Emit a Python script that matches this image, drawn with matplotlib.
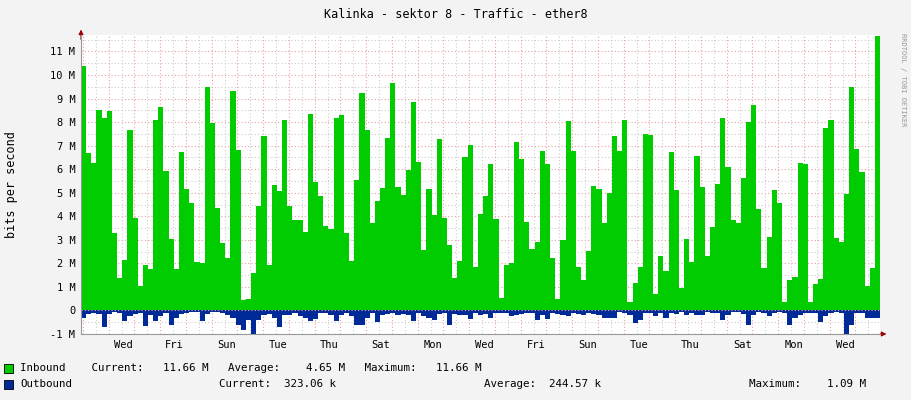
import matplotlib
matplotlib.use('Agg')
import matplotlib.pyplot as plt
import numpy as np

# inbound traffic (Mbit/s), ~4.8h steps
INBOUND = [
    10.37, 6.7, 6.28, 8.5, 8.17, 8.47, 3.28, 1.36, 2.13, 7.66, 3.91, 1.06, 1.91,
    1.76, 8.09, 8.64, 5.91, 3.02, 1.76, 6.75, 5.15, 4.55, 2.04, 2.0, 9.49, 7.96,
    4.34, 2.85, 2.21, 9.32, 6.81, 0.43, 0.47, 1.57, 4.43, 7.4, 1.91, 5.32, 5.06,
    8.09, 4.43, 3.83, 3.83, 3.32, 8.34, 5.45, 4.85, 3.57, 3.45, 8.17, 8.3, 3.28,
    2.09, 5.53, 9.23, 7.66, 3.70, 4.64, 5.19, 7.32, 9.66, 5.23, 4.89, 5.96, 8.85,
    6.30, 2.55, 5.15, 4.04, 7.28, 3.91, 2.77, 1.36, 2.09, 6.51, 7.02, 1.83, 4.09,
    4.85, 6.21, 3.87, 0.51, 1.91, 2.0, 7.15, 6.43, 3.74, 2.60, 2.89, 6.77, 6.21,
    2.21, 0.47, 2.98, 8.04, 6.77, 1.83, 1.28, 2.51, 5.28, 5.15, 3.70, 4.98, 7.40,
    6.77, 8.09, 0.38, 1.15, 1.83, 7.49, 7.45, 0.68, 2.30, 1.66, 6.72, 5.11,
    0.94, 3.02, 2.04, 6.55, 5.23, 2.30, 3.53, 5.36, 8.17, 6.09, 3.83, 3.70, 5.62,
    8.0, 8.72, 4.30, 1.79, 3.11, 5.11, 4.55, 0.34, 1.28, 1.40, 6.26, 6.21, 0.34,
    1.11, 1.32, 7.74, 8.09, 3.06, 2.89, 4.94, 9.49, 6.85, 5.87, 1.02, 1.79, 11.66,
]

# outbound traffic (Mbit/s), drawn below zero
OUTBOUND = [
    0.3, 0.15, 0.1, 0.15, 0.7, 0.15, 0.05, 0.1, 0.45, 0.25, 0.15, 0.1, 0.65,
    0.2, 0.45, 0.25, 0.1, 0.6, 0.3, 0.15, 0.1, 0.05, 0.05, 0.45, 0.15, 0.05,
    0.05, 0.1, 0.2, 0.3, 0.6, 0.85, 0.4, 1.09, 0.4, 0.2, 0.15, 0.3, 0.7,
    0.2, 0.2, 0.1, 0.25, 0.3, 0.45, 0.35, 0.1, 0.1, 0.2, 0.45, 0.2, 0.1,
    0.25, 0.62, 0.62, 0.3, 0.1, 0.5, 0.2, 0.15, 0.1, 0.2, 0.15, 0.2, 0.45,
    0.1, 0.25, 0.3, 0.4, 0.15, 0.1, 0.6, 0.15, 0.2, 0.2, 0.35, 0.1, 0.2,
    0.15, 0.3, 0.1, 0.1, 0.1, 0.25, 0.2, 0.15, 0.1, 0.1, 0.4, 0.2, 0.35,
    0.1, 0.15, 0.2, 0.25, 0.1, 0.15, 0.2, 0.1, 0.15, 0.2, 0.3, 0.3, 0.3,
    0.05, 0.1, 0.2, 0.55, 0.4, 0.1, 0.1, 0.25, 0.1, 0.3, 0.1, 0.15,
    0.05, 0.2, 0.1, 0.2, 0.2, 0.05, 0.1, 0.1, 0.4, 0.2, 0.05, 0.05, 0.15,
    0.6, 0.2, 0.05, 0.1, 0.25, 0.1, 0.05, 0.1, 0.6, 0.3, 0.2, 0.1, 0.1,
    0.1, 0.5, 0.25, 0.1, 0.05, 0.1, 1.0, 0.6, 0.1, 0.1, 0.3, 0.3, 0.323,
]

DAY_LABELS = ['Wed', 'Fri', 'Sun', 'Tue', 'Thu', 'Sat', 'Mon',
              'Wed', 'Fri', 'Sun', 'Tue', 'Thu', 'Sat', 'Mon', 'Wed']
Y_TICKS = list(range(-1, 12))

GREEN = '#00CC00'
BLUE = '#002A97'
BG = '#F3F3F3'
MONO = 'DejaVu Sans Mono'

W, H = 911, 400
L, R, B, T = 81, 880, 334, 35
n = len(INBOUND)
px_per = (R - L) / n


def px2x(px):
    return (px - L) / px_per


fig = plt.figure(figsize=(W / 100, H / 100), dpi=100, facecolor=BG)
ax = fig.add_axes([L / W, (H - B) / H, (R - L) / W, (B - T) / H])
ax.set_facecolor('white')

x = np.arange(n)
ax.bar(x, INBOUND, width=1.0, align='edge', color=GREEN, linewidth=0, zorder=2)
ax.bar(x, -np.array(OUTBOUND), width=1.0, align='edge', color=BLUE, linewidth=0, zorder=2)

ax.set_xlim(0, n)
ax.set_ylim(-1, 11.7)

# grid: red at whole M / day boundaries, grey at half M / noon
for v in np.arange(-1, 12, 0.5):
    c = '#E8A0A0' if v == int(v) else '#CCCCCC'
    ax.axhline(v, color=c, linestyle=(0, (1, 2)), linewidth=0.8, zorder=1)
day0 = 108.7
day_px = 25.75
for k in range(-1, 32):
    xp = day0 + k * day_px
    if L < xp < R:
        ax.axvline(px2x(xp), color='#E8A0A0', linestyle=(0, (1, 2)), linewidth=0.8, zorder=1)
    xn = xp + day_px / 2
    if L < xn < R:
        ax.axvline(px2x(xn), color='#CCCCCC', linestyle=(0, (1, 2)), linewidth=0.8, zorder=1)
ax.axhline(0, color='#E8A0A0', linestyle=(0, (1, 2)), linewidth=0.8, zorder=3)

for s in ['top', 'right']:
    ax.spines[s].set_visible(False)
ax.spines['left'].set_color('#999999')
ax.spines['bottom'].set_color('#999999')
ax.spines['left'].set_zorder(4)
ax.spines['bottom'].set_zorder(4)

ax.set_yticks(Y_TICKS)
ax.set_yticklabels(['%d M' % v if v != 0 else '0' for v in Y_TICKS],
                   fontsize=7.5, family=MONO)
tick_pos = [px2x(123 + i * 51.6) for i in range(len(DAY_LABELS))]
ax.set_xticks(tick_pos)
ax.set_xticklabels(DAY_LABELS, fontsize=7.5, family=MONO)
ax.tick_params(length=0, pad=4, colors='#000000')

# red arrows on the axes
ax.annotate('', xy=(n + 1.8, -1), xytext=(n - 0.5, -1), annotation_clip=False,
            arrowprops=dict(arrowstyle='-|>', color='#A00000', lw=0.8, mutation_scale=7))
ax.annotate('', xy=(0, 12.05), xytext=(0, 11.4), annotation_clip=False,
            arrowprops=dict(arrowstyle='-|>', color='#A00000', lw=0.8, mutation_scale=7))

fig.text(456 / W, 1 - 14 / H, 'Kalinka - sektor 8 - Traffic - ether8',
         ha='center', va='center', fontsize=8.5, family=MONO)
fig.text(12 / W, 1 - 185 / H, 'bits per second', rotation=90,
         ha='center', va='center', fontsize=8.5, family=MONO)
fig.text(903 / W, 1 - 80 / H, 'RRDTOOL / TOBI OETIKER', rotation=270,
         ha='center', va='center', fontsize=5, family=MONO, color='#999999')

# legend rows
for yy, col in [(368, GREEN), (384, BLUE)]:
    fig.patches.append(plt.Rectangle((4 / W, 1 - (yy + 5) / H), 9 / W, 9 / H,
                                     transform=fig.transFigure, facecolor=col,
                                     edgecolor='black', linewidth=0.6))
fig.text(20 / W, 1 - 368 / H,
         'Inbound    Current:   11.66 M   Average:    4.65 M   Maximum:   11.66 M',
         ha='left', va='center', fontsize=7.8, family=MONO)
fig.text(20 / W, 1 - 384 / H, 'Outbound', ha='left', va='center', fontsize=7.8, family=MONO)
fig.text(219 / W, 1 - 384 / H, 'Current:  323.06 k', ha='left', va='center', fontsize=7.8, family=MONO)
fig.text(484 / W, 1 - 384 / H, 'Average:  244.57 k', ha='left', va='center', fontsize=7.8, family=MONO)
fig.text(749 / W, 1 - 384 / H, 'Maximum:    1.09 M', ha='left', va='center', fontsize=7.8, family=MONO)

plt.savefig('out.png', dpi=100, facecolor=BG)
